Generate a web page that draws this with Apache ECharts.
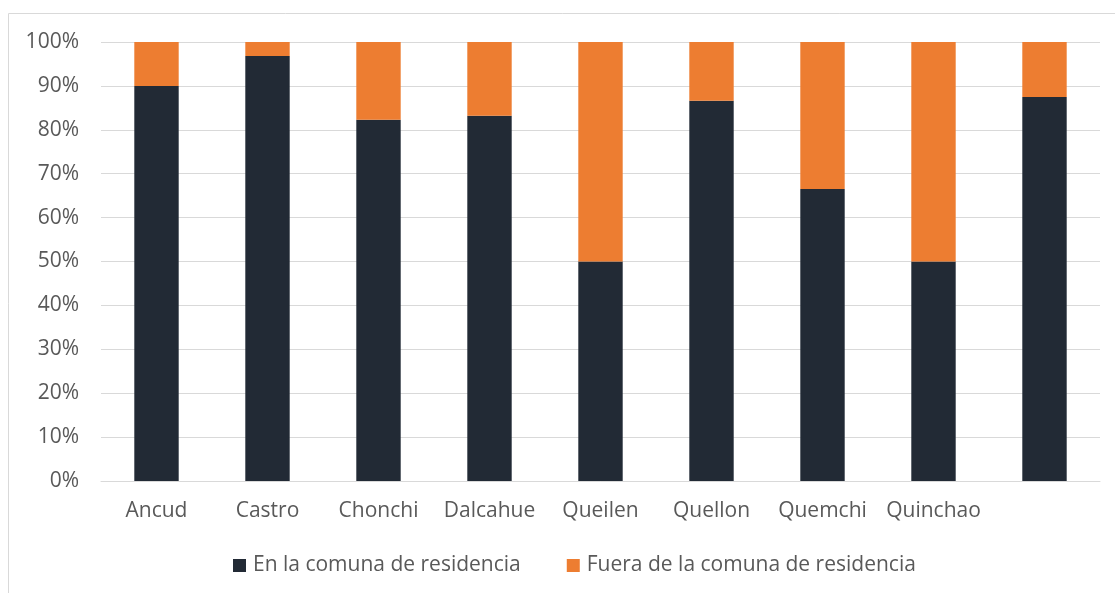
<!DOCTYPE html>
<html>
<head>
<meta charset="utf-8">
<script src="https://cdn.jsdelivr.net/npm/echarts@6/dist/echarts.min.js"></script>
<style>
  html, body { margin: 0; padding: 0; background: #fff; }
  #chart { width: 1115px; height: 593px; }
</style>
</head>
<body>
<div id="chart"></div>
<script>
// comunas (the last column has no label in the original)
const comunas = ['Ancud', 'Castro', 'Chonchi', 'Dalcahue', 'Queilen', 'Quellon', 'Quemchi', 'Quinchao', '']
const enLaComuna = [90, 96.8, 82.3, 83.2, 50, 86.6, 66.5, 50, 87.5]
const fueraComuna = [10, 3.2, 17.7, 16.8, 50, 13.4, 33.5, 50, 12.5]
const serieNames = ['En la comuna de residencia', 'Fuera de la comuna de residencia']

const textColor = '#595959'
const font = 'Open Sans'

const chart = echarts.init(document.getElementById('chart'))
const option = {
  animation: false,
  color: ['#222A35', '#ED7D31'],
  graphic: [{
    type: 'rect',
    shape: { x: 8.5, y: 13.5, width: 1300, height: 800 },
    style: { fill: 'none', stroke: '#D9D9D9', lineWidth: 1 },
    silent: true
  }],
  grid: { left: 101, right: 15, top: 42, bottom: 112 },
  legend: {
    bottom: 12,
    left: 228,
    icon: 'rect',
    itemWidth: 13,
    itemHeight: 13,
    itemGap: 46,
    textStyle: { color: textColor, fontFamily: font, fontSize: 21, padding: [0, 0, 0, 2] },
    data: serieNames
  },
  xAxis: {
    type: 'category',
    data: comunas,
    axisLine: { lineStyle: { color: '#D9D9D9', width: 1 } },
    axisTick: { show: false },
    axisLabel: { color: textColor, fontFamily: font, fontSize: 21, margin: 20, interval: 0 }
  },
  yAxis: {
    type: 'value',
    min: 0,
    max: 100,
    interval: 10,
    axisLine: { show: false },
    axisTick: { show: false },
    splitLine: { lineStyle: { color: '#D9D9D9', width: 1 } },
    axisLabel: {
      color: textColor, fontFamily: font, fontSize: 21, margin: 22,
      formatter: v => v + '%'
    }
  },
  series: [
    { name: serieNames[0], type: 'bar', stack: 'total', barWidth: '40%', data: enLaComuna },
    { name: serieNames[1], type: 'bar', stack: 'total', barWidth: '40%', data: fueraComuna }
  ]
}
chart.setOption(option)
</script>
</body>
</html>
